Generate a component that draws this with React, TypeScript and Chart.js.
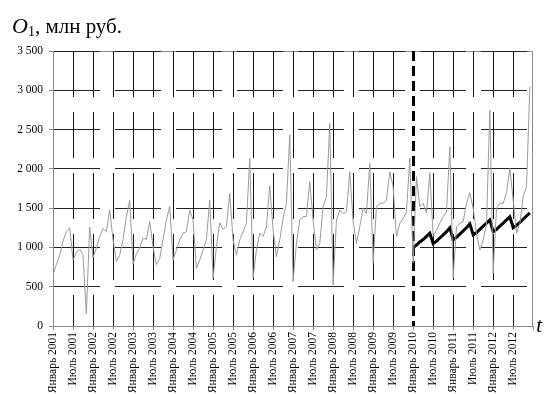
import { useEffect, useRef } from 'react';
import { Chart, registerables } from 'chart.js';

Chart.register(...registerables);

// Half-year tick labels (Jan / Jul of each year)
const HALF_YEAR_LABELS = [
  'Январь 2001', 'Июль 2001', 'Январь 2002', 'Июль 2002', 'Январь 2003', 'Июль 2003',
  'Январь 2004', 'Июль 2004', 'Январь 2005', 'Июль 2005', 'Январь 2006', 'Июль 2006',
  'Январь 2007', 'Июль 2007', 'Январь 2008', 'Июль 2008', 'Январь 2009', 'Июль 2009',
  'Январь 2010', 'Июль 2010', 'Январь 2011', 'Июль 2011', 'Январь 2012', 'Июль 2012',
];
const Y_TICK_LABELS = ['0', '500', '1 000', '1 500', '2 000', '2 500', '3 000', '3 500'];

// Monthly actual values, млн руб.
const ACTUAL_2001 = [650, 780, 900, 1080, 1200, 1250, 840, 930, 980, 910, 160, 1260];
const ACTUAL_2002 = [870, 990, 1140, 1240, 1200, 1480, 1100, 820, 900, 1100, 1390, 1600];
const ACTUAL_2003 = [790, 920, 990, 1120, 1100, 1330, 1010, 780, 860, 1100, 1350, 1520];
const ACTUAL_2004 = [840, 967, 1095, 1180, 1200, 1476, 1349, 734, 840, 967, 1095, 1604];
const ACTUAL_2005 = [607, 1010, 1315, 1230, 1264, 1689, 1095, 904, 1095, 1200, 1307, 2134];
const ACTUAL_2006 = [607, 970, 1180, 1140, 1264, 1782, 1222, 882, 1095, 1370, 1561, 2431];
const ACTUAL_2007 = [564, 1052, 1349, 1392, 1392, 1837, 1349, 967, 1052, 1519, 1646, 2579];
const ACTUAL_2008 = [522, 1349, 1476, 1430, 1455, 1964, 1328, 1052, 1264, 1500, 1434, 2070];
const ACTUAL_2009 = [798, 1519, 1561, 1561, 1604, 1964, 1773, 1137, 1307, 1370, 1455, 2134];
const ACTUAL_2010 = [800, 1900, 1519, 1561, 1440, 1950, 1140, 1220, 1310, 1390, 1450, 2282];
const ACTUAL_2011 = [607, 1264, 1307, 1328, 1561, 1697, 1498, 1180, 967, 1095, 1300, 2749];
const ACTUAL_2012 = [670, 1500, 1561, 1561, 1697, 2007, 1600, 1180, 1307, 1646, 1773, 3046];

// Model values for 2010–2012
const MODEL_2010 = [1000, 1030, 1070, 1100, 1140, 1180, 1050, 1080, 1120, 1160, 1200, 1250];
const MODEL_2011 = [1100, 1130, 1170, 1210, 1250, 1300, 1160, 1190, 1230, 1270, 1310, 1350];
const MODEL_2012 = [1200, 1230, 1270, 1310, 1350, 1390, 1250, 1280, 1320, 1360, 1400, 1440];

const MODEL_START = 108; // month index of January 2010
const MONTHS_TOTAL = 144;

const SERIF = "'Liberation Serif', 'Times New Roman', serif";
Chart.defaults.font.family = SERIF;

const actual = [
  ...ACTUAL_2001, ...ACTUAL_2002, ...ACTUAL_2003, ...ACTUAL_2004,
  ...ACTUAL_2005, ...ACTUAL_2006, ...ACTUAL_2007, ...ACTUAL_2008,
  ...ACTUAL_2009, ...ACTUAL_2010, ...ACTUAL_2011, ...ACTUAL_2012,
];
const model = [...MODEL_2010, ...MODEL_2011, ...MODEL_2012];

const decorPlugin = {
  id: 'decor',
  beforeDraw(chart: any) {
    const { ctx, chartArea: a } = chart;
    ctx.save();
    ctx.strokeStyle = '#8a8a8a';
    ctx.lineWidth = 1;
    ctx.beginPath();
    ctx.moveTo(a.left, Math.round(a.top) + 0.5);
    ctx.lineTo(Math.round(a.right) - 0.5, Math.round(a.top) + 0.5);
    ctx.lineTo(Math.round(a.right) - 0.5, a.bottom);
    ctx.stroke();
    ctx.restore();
  },
  beforeDatasetsDraw(chart: any) {
    const { ctx, chartArea: a, scales } = chart;
    const x = Math.round(scales.x.getPixelForValue(MODEL_START)) + 0.5;
    ctx.save();
    ctx.strokeStyle = '#000';
    ctx.lineWidth = 3;
    ctx.setLineDash([10, 5]);
    ctx.beginPath();
    ctx.moveTo(x, a.top);
    ctx.lineTo(x, a.bottom);
    ctx.stroke();
    ctx.restore();
  },
  afterDraw(chart: any) {
    const { ctx, chartArea: a } = chart;
    ctx.save();
    ctx.fillStyle = '#000';
    ctx.textBaseline = 'alphabetic';
    ctx.textAlign = 'left';
    // axis title: O₁, млн руб.
    let tx = 12;
    const ty = 33;
    ctx.font = `italic 22px ${SERIF}`;
    ctx.fillText('O', tx, ty);
    tx += ctx.measureText('O').width;
    ctx.font = `14px ${SERIF}`;
    ctx.fillText('1', tx, ty + 3);
    tx += ctx.measureText('1').width;
    ctx.font = `21px ${SERIF}`;
    ctx.fillText(', млн руб.', tx, ty);
    // time axis symbol
    ctx.font = `italic 21px ${SERIF}`;
    ctx.fillText('t', a.right + 3, a.bottom + 6);
    ctx.restore();
  },
};

export default function App() {
  const ref = useRef<HTMLCanvasElement | null>(null);

  useEffect(() => {
    if (!ref.current) return;
    const chart = new Chart(ref.current, {
      type: 'line',
      data: {
        datasets: [
          {
            data: actual.map((v, i) => ({ x: i, y: v })),
            borderColor: '#9a9a9a',
            borderWidth: 1,
            pointRadius: 0,
            tension: 0,
          },
          {
            data: model.map((v, i) => ({ x: MODEL_START + i, y: v })),
            borderColor: '#000',
            borderWidth: 3,
            pointRadius: 0,
            tension: 0,
          },
        ],
      },
      options: {
        animation: false,
        responsive: false,
        devicePixelRatio: 1,
        layout: { padding: { left: 0, top: 51, right: 12, bottom: 0 } },
        plugins: { legend: { display: false }, tooltip: { enabled: false }, title: { display: false } },
        scales: {
          x: {
            type: 'linear',
            min: 0,
            max: MONTHS_TOTAL,
            afterFit(scale: any) {
              scale.height = 420 - 326;
            },
            ticks: {
              stepSize: 6,
              autoSkip: false,
              minRotation: 90,
              maxRotation: 90,
              padding: 2,
              color: '#000',
              font: { family: SERIF, size: 11.5 },
              callback: (v: any) => HALF_YEAR_LABELS[Math.round(v / 6)] ?? '',
            },
            grid: {
              color: (c: any) => {
                const v = c.tick?.value;
                return v === 0 || v === MONTHS_TOTAL || v === MODEL_START ? 'rgba(0,0,0,0)' : '#111';
              },
              lineWidth: 1,
              tickLength: 4,
              tickColor: '#8a8a8a',
            },
            border: { display: true, color: '#8a8a8a', width: 1, dash: [46, 15] },
          },
          y: {
            min: 0,
            max: 3500,
            afterFit(scale: any) {
              scale.width = 53;
            },
            ticks: {
              stepSize: 500,
              padding: 6,
              color: '#000',
              font: { family: SERIF, size: 11.5 },
              callback: (v: any) => Y_TICK_LABELS[Math.round(v / 500)] ?? '',
            },
            grid: {
              color: (c: any) => (c.tick?.value === 0 ? 'rgba(0,0,0,0)' : '#222'),
              lineWidth: 1,
              tickLength: 4,
              tickColor: '#8a8a8a',
            },
            border: { display: true, color: '#8a8a8a', width: 1, dash: [46, 15] },
          },
        },
      },
      plugins: [decorPlugin],
    });
    return () => chart.destroy();
  }, []);

  return (
    <div style={{ position: 'fixed', left: 0, top: 0, width: 549, height: 420, background: '#fff' }}>
      <canvas ref={ref} width={549} height={420} style={{ display: 'block' }} />
    </div>
  );
}
